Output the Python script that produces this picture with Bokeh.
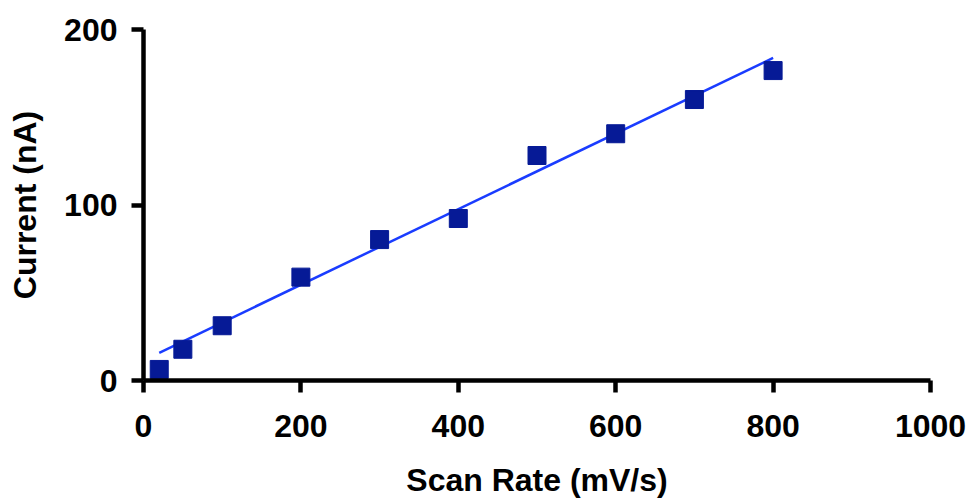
from bokeh.plotting import figure
from bokeh.models import FixedTicker, Range1d, ColumnDataSource
from bokeh.embed import file_html
from bokeh.resources import INLINE

# Data
scan_rate = [20, 50, 100, 200, 300, 400, 500, 600, 700, 800]
current = [6.3, 17.8, 31.2, 58.9, 80.3, 92.3, 128.2, 140.6, 160.1, 176.6]

# Linear fit as drawn in the reference (endpoints)
fit_x = [20, 800]
fit_y = [15.8, 183.8]

x_ticks = [0, 200, 400, 600, 800, 1000]
y_ticks = [0, 100, 200]

FONT = "Liberation Sans"

p = figure(width=968, height=500, output_backend="svg", toolbar_location=None,
           x_range=Range1d(0, 1000), y_range=Range1d(0, 200),
           min_border_left=143, min_border_right=38,
           min_border_top=29, min_border_bottom=120)

p.grid.visible = False
p.outline_line_color = None
p.background_fill_color = "white"
p.border_fill_color = "white"

p.line(fit_x, fit_y, line_color="#1a3cff", line_width=2.5)
src = ColumnDataSource(dict(x=scan_rate, y=current))
p.scatter("x", "y", source=src, marker="square", size=18,
          fill_color="#061a96", line_color="#061a96")

for ax in (p.xaxis[0], p.yaxis[0]):
    ax.axis_line_width = 4.5
    ax.axis_line_color = "black"
    ax.major_tick_line_width = 4.5
    ax.major_tick_line_color = "black"
    ax.major_tick_out = 12
    ax.major_tick_in = 0
    ax.minor_tick_line_color = None
    ax.major_label_text_font = FONT
    ax.major_label_text_font_style = "bold"
    ax.major_label_text_font_size = "32px"
    ax.major_label_text_color = "black"
    ax.axis_label_text_font = FONT
    ax.axis_label_text_font_style = "bold"
    ax.axis_label_text_font_size = "32px"
    ax.axis_label_text_color = "black"

p.xaxis[0].ticker = FixedTicker(ticks=x_ticks)
p.yaxis[0].ticker = FixedTicker(ticks=y_ticks)
p.xaxis[0].axis_label = "Scan Rate (mV/s)"
p.yaxis[0].axis_label = "Current (nA)"
p.xaxis[0].major_label_standoff = 22
p.yaxis[0].major_label_standoff = 14
p.xaxis[0].axis_label_standoff = 22
p.yaxis[0].axis_label_standoff = 18

open("out.html", "w").write(file_html(p, INLINE))
